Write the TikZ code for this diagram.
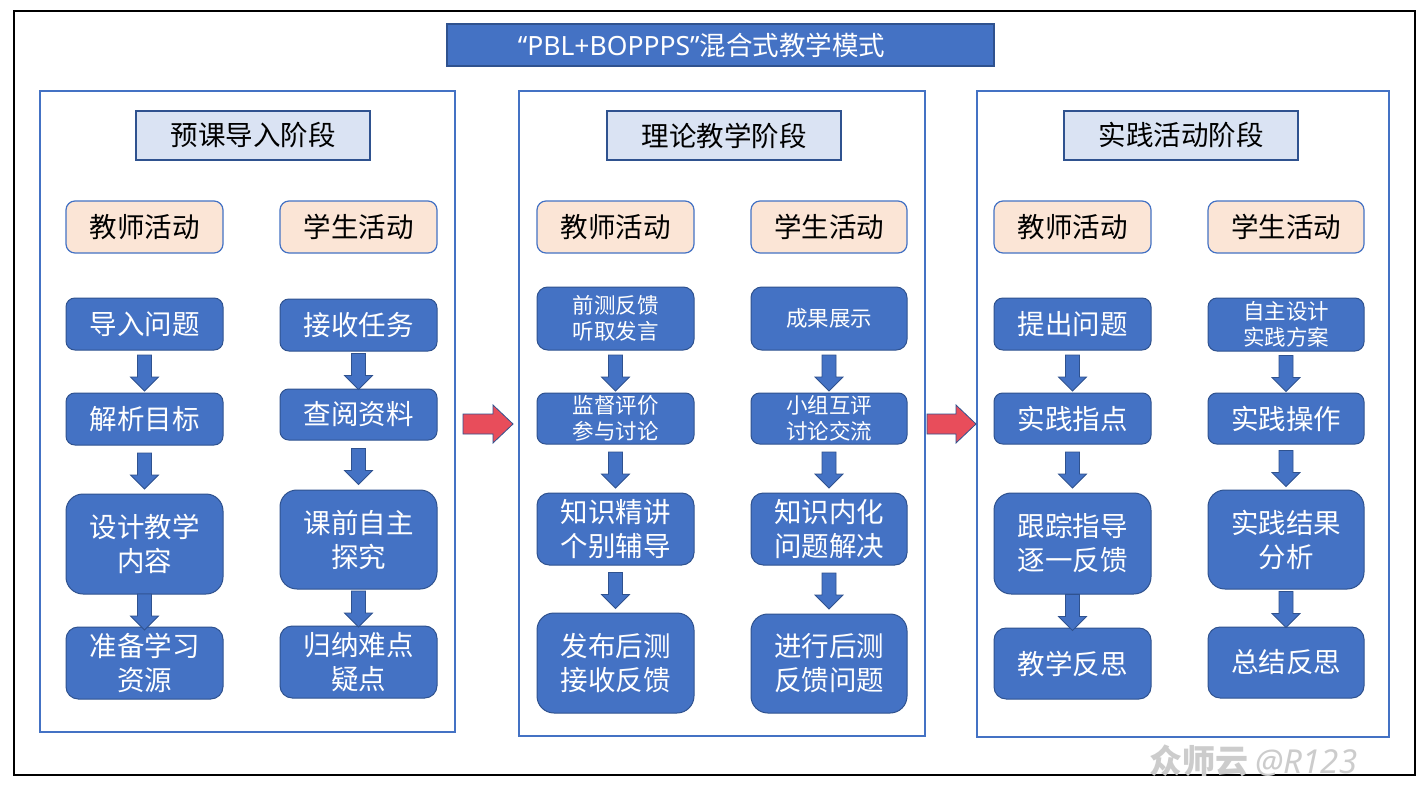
\documentclass[tikz,border=0pt]{standalone}
\usepackage{fontspec}
\setmainfont{Noto Sans CJK SC}
\newfontfamily\latinf{Noto Sans}
\usetikzlibrary{calc}
\definecolor{mblue}{HTML}{4472C4}
\definecolor{mbdr}{HTML}{2F528F}
\definecolor{mhead}{HTML}{DAE3F3}
\definecolor{mpeach}{HTML}{FBE5D6}
\definecolor{mred}{HTML}{E84D5B}
\tikzset{
  titlebox/.style={draw=mbdr, fill=mblue, line width=2pt, text=white, inner sep=0pt, font=\fontsize{26.5}{30}\selectfont},
  panel/.style={draw=mblue, line width=2pt, inner sep=0pt},
  stagehead/.style={draw=mbdr, fill=mhead, line width=2pt, inner sep=0pt, font=\fontsize{27.5}{33}\selectfont},
  actbox/.style={draw=mblue, fill=mpeach, line width=1.2pt, rounded corners=9pt, inner sep=0pt, font=\fontsize{27.5}{33}\selectfont},
  bluebox/.style={draw=mbdr, fill=mblue, line width=1pt, text=white, inner sep=0pt, align=center, rounded corners=\br pt, font=\fontsize{27.5}{34}\selectfont},
  smalltext/.style={font=\fontsize{21.5}{25.5}\selectfont},
  blockarr/.style={draw=mbdr, fill=mblue, line width=0.8pt},
  redarr/.style={draw=mbdr, fill=mred, line width=0.8pt},
  frame/.style={draw=black, line width=2pt},
  wmark/.style={text=black!20, inner sep=0pt, anchor=west, font=\bfseries\fontsize{33}{36}\selectfont}
}
% #1 name, #2 x1, #3 x2, #4 y1, #5 y2, #6 options, #7 text
\newcommand\placebox[7]{%
  \pgfmathsetmacro\bw{#3-#2}%
  \pgfmathsetmacro\bh{#5-#4}%
  \pgfmathsetmacro\br{0.17*min(\bw,\bh)}%
  \node[minimum width=\bw pt, minimum height=\bh pt, #6] (#1) at ({(#2+#3)/2},{(#4+#5)/2}) {#7};}
% down block arrow between two named nodes
\newcommand\dnarrow[2]{%
  \path[blockarr] let \p1=(#1.south), \p2=(#2.north), \n1={(\y1+\y2)/2-1.5pt} in
    (\x1-7pt,{\n1*1pt+18pt}) -- (\x1+7pt,{\n1*1pt+18pt}) -- (\x1+7pt,{\n1*1pt-4pt})
    -- (\x1+14pt,{\n1*1pt-4pt}) -- (\x1,{\n1*1pt-18pt}) -- (\x1-14pt,{\n1*1pt-4pt})
    -- (\x1-7pt,{\n1*1pt-4pt}) -- cycle;}
% right red block arrow between two panels: #3 pixel row, #4 start gap, #5 end gap
\newcommand\redarrow[5]{%
  \path[redarr] let \p1=(#1.east), \p2=(#2.west) in
    (\x1+#4pt,-#3pt+10pt) -- (\x2-#5pt-20pt,-#3pt+10pt) -- (\x2-#5pt-20pt,-#3pt+19pt)
    -- (\x2-#5pt,-#3pt) -- (\x2-#5pt-20pt,-#3pt-19pt) -- (\x2-#5pt-20pt,-#3pt-10pt)
    -- (\x1+#4pt,-#3pt-10pt) -- cycle;}
\begin{document}
\begin{tikzpicture}[x=1pt,y=-1pt]
\useasboundingbox (0,0) rectangle (1427,789);
\fill[white] (0,0) rectangle (1427,789);
\draw[frame] (14,11) rectangle (1415,775);

\placebox{title}{447}{994}{24}{66}{titlebox}{{\latinf “PBL+BOPPPS”}混合式教学模式\hspace*{38pt}}

\placebox{p1}{40}{455}{91}{732}{panel}{}
\placebox{p2}{519}{925}{91}{736}{panel}{}
\placebox{p3}{977}{1389}{91}{737}{panel}{}

\placebox{h1}{136}{370}{111}{160}{stagehead}{预课导入阶段}
\placebox{h2}{607}{841}{111}{160}{stagehead}{理论教学阶段}
\placebox{h3}{1064}{1298}{111}{160}{stagehead}{实践活动阶段}

\placebox{a1t}{66}{223}{201}{253}{actbox}{教师活动}
\placebox{a1s}{280}{437}{201}{253}{actbox}{学生活动}
\placebox{a2t}{537}{694}{201}{253}{actbox}{教师活动}
\placebox{a2s}{751}{907}{201}{253}{actbox}{学生活动}
\placebox{a3t}{994}{1151}{201}{253}{actbox}{教师活动}
\placebox{a3s}{1208}{1364}{201}{253}{actbox}{学生活动}

% stage 1
\placebox{t11}{66}{223}{298}{350}{bluebox}{导入问题}
\placebox{t12}{66}{223}{393}{445}{bluebox}{解析目标}
\placebox{t13}{66}{223}{494}{594}{bluebox}{设计教学\\内容}
\placebox{t14}{66}{223}{627}{699}{bluebox}{准备学习\\资源}
\placebox{s11}{280}{437}{299}{351}{bluebox}{接收任务}
\placebox{s12}{280}{437}{389}{440}{bluebox}{查阅资料}
\placebox{s13}{280}{437}{490}{589}{bluebox}{课前自主\\探究}
\placebox{s14}{280}{437}{626}{698}{bluebox}{归纳难点\\疑点}
% stage 2
\placebox{t21}{537}{694}{287}{350}{bluebox,smalltext}{前测反馈\\听取发言}
\placebox{t22}{537}{694}{393}{444}{bluebox,smalltext}{监督评价\\参与讨论}
\placebox{t23}{537}{694}{493}{565}{bluebox}{知识精讲\\个别辅导}
\placebox{t24}{537}{694}{613}{713}{bluebox}{发布后测\\接收反馈}
\placebox{s21}{751}{907}{287}{350}{bluebox,smalltext}{成果展示}
\placebox{s22}{751}{907}{393}{444}{bluebox,smalltext}{小组互评\\讨论交流}
\placebox{s23}{751}{907}{493}{565}{bluebox}{知识内化\\问题解决}
\placebox{s24}{751}{907}{614}{713}{bluebox}{进行后测\\反馈问题}
% stage 3
\placebox{t31}{994}{1151}{298}{350}{bluebox}{提出问题}
\placebox{t32}{994}{1151}{393}{444}{bluebox}{实践指点}
\placebox{t33}{994}{1151}{493}{594}{bluebox}{跟踪指导\\逐一反馈}
\placebox{t34}{994}{1151}{628}{699}{bluebox}{教学反思}
\placebox{s31}{1208}{1364}{298}{351}{bluebox,smalltext}{自主设计\\实践方案}
\placebox{s32}{1208}{1364}{393}{444}{bluebox}{实践操作}
\placebox{s33}{1208}{1364}{490}{589}{bluebox}{实践结果\\分析}
\placebox{s34}{1208}{1364}{627}{698}{bluebox}{总结反思}

\dnarrow{t11}{t12}\dnarrow{t12}{t13}\dnarrow{t13}{t14}
\dnarrow{s11}{s12}\dnarrow{s12}{s13}\dnarrow{s13}{s14}
\dnarrow{t21}{t22}\dnarrow{t22}{t23}\dnarrow{t23}{t24}
\dnarrow{s21}{s22}\dnarrow{s22}{s23}\dnarrow{s23}{s24}
\dnarrow{t31}{t32}\dnarrow{t32}{t33}\dnarrow{t33}{t34}
\dnarrow{s31}{s32}\dnarrow{s32}{s33}\dnarrow{s33}{s34}

\redarrow{p1}{p2}{424}{7}{5}
\redarrow{p2}{p3}{424}{1}{0}

\node[wmark] (wm) at (1149,761) {众师云 {\latinf\itshape @R123}};
\end{tikzpicture}
\end{document}
